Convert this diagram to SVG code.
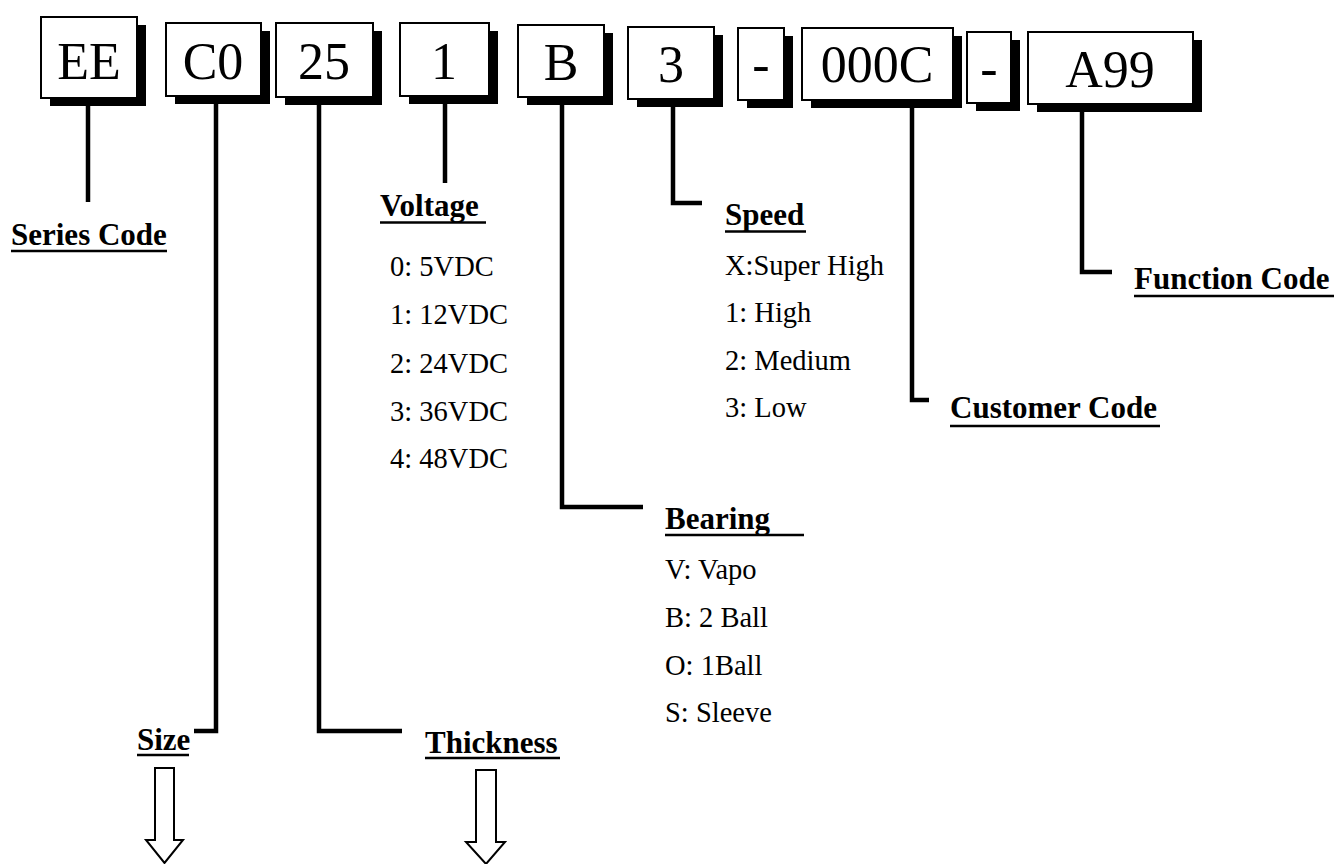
<svg xmlns="http://www.w3.org/2000/svg" width="1343" height="864" viewBox="0 0 1343 864">
<style>
.box{fill:#fff;stroke:#000;stroke-width:2}
.sh{fill:#000}
.bt{font-family:"Liberation Serif","Times New Roman",serif;font-size:52px;text-anchor:middle;fill:#000}
.lbl{font-family:"Liberation Serif","Times New Roman",serif;font-size:31px;font-weight:bold;fill:#000}
.itm{font-family:"Liberation Serif","Times New Roman",serif;font-size:28.5px;fill:#000}
.ul{stroke:#000;stroke-width:2.5}
.con{fill:none;stroke:#000;stroke-width:4.5;stroke-linejoin:miter;stroke-linecap:butt}
.arr{fill:#fff;stroke:#000;stroke-width:2}
</style>
<rect width="1343" height="864" fill="#fff"/>
<g id="connectors">
<path class="con" d="M88 106 V202"/>
<path class="con" d="M216 104 V731 H194"/>
<path class="con" d="M319 105 V731 H402"/>
<path class="con" d="M445 104 V183"/>
<path class="con" d="M562 105 V507 H643"/>
<path class="con" d="M673 107 V203 H702"/>
<path class="con" d="M912 108 V400 H929"/>
<path class="con" d="M1082 112 V272 H1112"/>
</g>
<g id="box-EE"><rect class="sh" x="50" y="25" width="96" height="81"/><rect class="box" x="41" y="17" width="96" height="81"/><text class="bt" x="89" y="79">EE</text></g>
<g id="box-C0"><rect class="sh" x="175" y="31" width="95" height="73"/><rect class="box" x="166" y="23" width="95" height="73"/><text class="bt" x="213" y="79">C0</text></g>
<g id="box-25"><rect class="sh" x="285" y="31" width="97" height="74"/><rect class="box" x="276" y="23" width="97" height="74"/><text class="bt" x="324" y="79">25</text></g>
<g id="box-1"><rect class="sh" x="409" y="31" width="89" height="73"/><rect class="box" x="400" y="23" width="89" height="73"/><text class="bt" x="444" y="79">1</text></g>
<g id="box-B"><rect class="sh" x="527" y="33" width="86" height="72"/><rect class="box" x="518" y="25" width="86" height="72"/><text class="bt" x="561" y="80">B</text></g>
<g id="box-3"><rect class="sh" x="637" y="35" width="86" height="72"/><rect class="box" x="628" y="27" width="86" height="72"/><text class="bt" x="671" y="82">3</text></g>
<g id="box-dash1"><rect class="sh" x="747" y="36" width="46" height="72"/><rect class="box" x="738" y="28" width="46" height="72"/><text class="bt" x="761" y="82">-</text></g>
<g id="box-000C"><rect class="sh" x="811" y="36" width="151" height="72"/><rect class="box" x="802" y="28" width="151" height="72"/><text class="bt" x="877" y="82">000C</text></g>
<g id="box-dash2"><rect class="sh" x="976" y="40" width="44" height="71"/><rect class="box" x="967" y="32" width="44" height="71"/><text class="bt" x="989" y="86">-</text></g>
<g id="box-A99"><rect class="sh" x="1037" y="40" width="165" height="72"/><rect class="box" x="1028" y="32" width="165" height="72"/><text class="bt" x="1110" y="87">A99</text></g>
<g id="label-series"><text class="lbl" x="11" y="245">Series Code</text><line class="ul" x1="11" y1="251" x2="167" y2="251"/></g>
<g id="label-voltage"><text class="lbl" x="380" y="216">Voltage</text><line class="ul" x1="380" y1="222.5" x2="486" y2="222.5"/>
<text class="itm" x="390" y="276">0: 5VDC</text>
<text class="itm" x="390" y="324">1: 12VDC</text>
<text class="itm" x="390" y="373">2: 24VDC</text>
<text class="itm" x="390" y="421">3: 36VDC</text>
<text class="itm" x="390" y="468">4: 48VDC</text></g>
<g id="label-speed"><text class="lbl" x="725" y="225">Speed</text><line class="ul" x1="725" y1="231.5" x2="806" y2="231.5"/>
<text class="itm" x="725" y="275">X:Super High</text>
<text class="itm" x="725" y="322">1: High</text>
<text class="itm" x="725" y="370">2: Medium</text>
<text class="itm" x="725" y="417">3: Low</text></g>
<g id="label-function"><text class="lbl" x="1134" y="289">Function Code</text><line class="ul" x1="1134" y1="296" x2="1334" y2="296"/></g>
<g id="label-customer"><text class="lbl" x="950" y="418">Customer Code</text><line class="ul" x1="950" y1="426" x2="1160" y2="426"/></g>
<g id="label-bearing"><text class="lbl" x="665" y="529">Bearing</text><line class="ul" x1="665" y1="535" x2="804" y2="535"/>
<text class="itm" x="665" y="579">V: Vapo</text>
<text class="itm" x="665" y="627">B: 2 Ball</text>
<text class="itm" x="665" y="675">O: 1Ball</text>
<text class="itm" x="665" y="722">S: Sleeve</text></g>
<g id="label-size"><text class="lbl" x="137" y="750">Size</text><line class="ul" x1="137" y1="755" x2="189" y2="755"/>
<path class="arr" d="M155 768 H174 V840 H183 L164.5 863 L146 840 H155 Z"/></g>
<g id="label-thickness"><text class="lbl" x="425" y="753">Thickness</text><line class="ul" x1="425" y1="758" x2="560" y2="758"/>
<path class="arr" d="M476 770 H496 V842 H505 L486 864 L466 842 H476 Z"/></g>
</svg>
